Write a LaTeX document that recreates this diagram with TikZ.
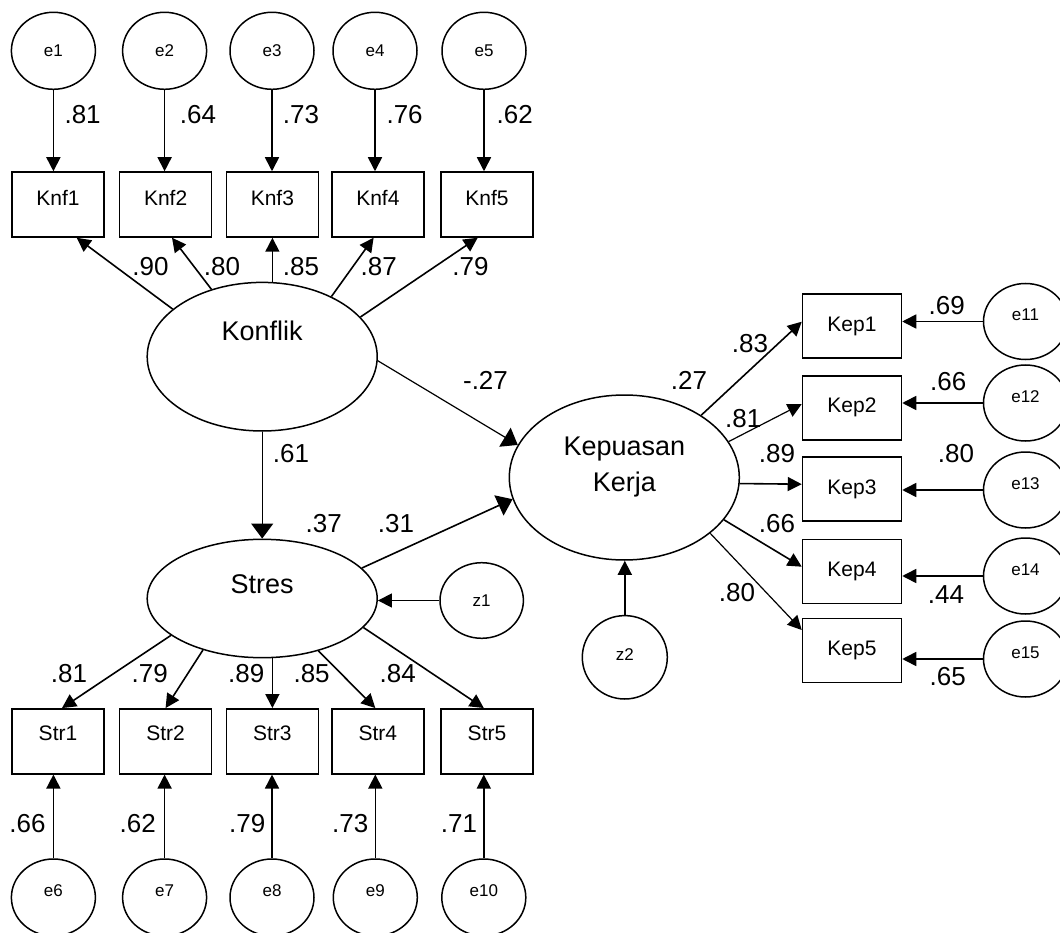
\documentclass[tikz,border=0pt]{standalone}
\usepackage{fontspec}
\setmainfont{Liberation Sans}
\usetikzlibrary{arrows.meta,shapes.geometric,calc}
\newcommand{\lift}[2]{\raisebox{#1}[0pt][0pt]{#2}}
\tikzset{
  obs/.style={draw, line width=1.5pt, rectangle, minimum width=92pt, minimum height=65pt, inner sep=0pt, font=\fontsize{21}{25}\selectfont},
  obsk/.style={obs, minimum width=99pt, minimum height=64pt},
  err/.style={draw, line width=1.5pt, ellipse, minimum width=84pt, minimum height=77pt, inner sep=0pt, font=\fontsize{17}{20}\selectfont},
  lat/.style={draw, line width=1.5pt, ellipse, minimum width=230pt, inner sep=0pt, font=\fontsize{27}{32}\selectfont},
  coef/.style={inner sep=0pt, font=\fontsize{26}{30}\selectfont},
  arr/.style={-{Triangle[length=14pt,width=14pt]}, line width=1.6pt},
  arrthin/.style={-{Triangle[length=14pt,width=14pt]}, line width=1.2pt},
  arrbig/.style={-{Triangle[length=15pt,width=22pt]}, line width=1.2pt},
}
\begin{document}
\begin{tikzpicture}[x=1pt,y=-1pt]
\useasboundingbox (0,0) rectangle (1060,933);
% latent variables
\node[lat, minimum height=148.6pt] (K) at (262.2,356.7) {\lift{16pt}{Konflik}};
\node[lat, minimum height=118.4pt] (S) at (262.2,598.5) {\lift{5.5pt}{Stres}};
\node[lat, minimum height=165pt] (P) at (624.3,477.5) {\makebox[0pt]{\lift{21.8pt}{Kepuasan}}\makebox[0pt]{\lift{-13.9pt}{Kerja}}};
% Konflik indicators
\node[obs] (Knf1) at (58,204.5) {\lift{-1.3pt}{Knf1}};
\node[obs] (Knf2) at (165.6,204.5) {\lift{-1.3pt}{Knf2}};
\node[obs] (Knf3) at (272.4,204.5) {\lift{-1.3pt}{Knf3}};
\node[obs] (Knf4) at (377.9,204.5) {\lift{-1.3pt}{Knf4}};
\node[obs] (Knf5) at (487,204.5) {\lift{-1.3pt}{Knf5}};
\node[err] (e1) at (53.4,50.8) {e1};
\node[err] (e2) at (164.6,50.8) {e2};
\node[err] (e3) at (272,50.8) {e3};
\node[err] (e4) at (375,50.8) {e4};
\node[err] (e5) at (484,50.8) {e5};
% Stres indicators
\node[obs] (Str1) at (58,741.3) {\lift{0.5pt}{Str1}};
\node[obs] (Str2) at (165.6,741.3) {\lift{0.5pt}{Str2}};
\node[obs] (Str3) at (272.4,741.3) {\lift{0.5pt}{Str3}};
\node[obs] (Str4) at (377.9,741.3) {\lift{0.5pt}{Str4}};
\node[obs] (Str5) at (487,741.3) {\lift{0.5pt}{Str5}};
\node[err] (e6) at (53.4,897.5) {\lift{1.5pt}{e6}};
\node[err] (e7) at (164.6,897.5) {\lift{1.5pt}{e7}};
\node[err] (e8) at (272,897.5) {\lift{1.5pt}{e8}};
\node[err] (e9) at (375.3,897.5) {\lift{1.5pt}{e9}};
\node[err] (e10) at (483.8,897.5) {\lift{1.5pt}{e10}};
% Kepuasan indicators
\node[obsk] (Kep1) at (852,326.2) {Kep1};
\node[obsk] (Kep2) at (852,407.8) {Kep2};
\node[obsk] (Kep3) at (852,489.2) {Kep3};
\node[obsk] (Kep4) at (852,571.3) {Kep4};
\node[obsk] (Kep5) at (852,650.5) {Kep5};
\node[err, minimum height=76pt] (e11) at (1025.5,321.5) {\lift{1pt}{e11}};
\node[err, minimum height=76pt] (e12) at (1025.5,403) {\lift{1pt}{e12}};
\node[err, minimum height=76pt] (e13) at (1025.5,490) {\lift{1pt}{e13}};
\node[err, minimum height=76pt] (e14) at (1025.5,576) {\lift{1pt}{e14}};
\node[err, minimum height=76pt] (e15) at (1025.5,659) {\lift{1pt}{e15}};
% disturbances
\node[err, minimum width=83.4pt, minimum height=75.6pt] (z1) at (481.7,600.5) {z1};
\node[err, minimum width=85pt, minimum height=83.4pt] (z2) at (624.8,657.3) {\lift{-3pt}{z2}};
% error arrows
\foreach \i/\b in {1/Knf1,2/Knf2,3/Knf3,4/Knf4,5/Knf5}
  \draw[arr] (e\i.south) -- (e\i.south |- \b.north);
\foreach \i/\b in {6/Str1,7/Str2,8/Str3,9/Str4,10/Str5}
  \draw[arr] (e\i.north) -- (e\i.north |- \b.south);
\foreach \i/\b in {11/Kep1,12/Kep2,13/Kep3,14/Kep4,15/Kep5}
  \draw[arr] (e\i.west) -- (e\i.west -| \b.east);
\draw[arr] (z1.west) -- (z1.west -| S.east);
\draw[arr] (z2.north) -- (z2.north |- P.south);
% loadings Konflik
\draw[arr] (K.152.9) -- ($(Knf1.south)+(18.7,0)$);
\draw[arr] (K.127.7) -- ($(Knf2.south)+(6.4,0)$);
\draw[arr] (K.north -| Knf3.south) -- (Knf3.south);
\draw[arr] (K.41.3) -- ($(Knf4.south)+(-4.3,0)$);
\draw[arr] (K.22.8) -- ($(Knf5.south)+(-9.3,0)$);
% loadings Stres
\draw[arr] (S.202.5) -- ($(Str1.north)+(4,0)$);
\draw[arr] (S.221.7) -- (Str2.north);
\draw[arr] (S.south -| Str3.north) -- (Str3.north);
\draw[arr] (S.317.5) -- ($(Str4.north)+(-2.6,0)$);
\draw[arr] (S.344.7) -- ($(Str5.north)+(-3.2,0)$);
% loadings Kepuasan
\draw[arr] (P.39.9) -- ($(Kep1.west)+(0,-4.5)$);
\draw[arrthin] (P.19.3) -- ($(Kep2.west)+(0,-3.8)$);
\draw[arr] (P.-3.7) -- ($(Kep3.west)+(0,-5)$);
\draw[arr] (P.-23.7) -- ($(Kep4.west)+(0,-4.6)$);
\draw[arrthin] (P.-33) -- ($(Kep5.west)+(0,-20.5)$);
% structural paths
\draw[arrbig] (K.south) -- (S.north);
\draw[arrbig] (K.-2.5) -- (P.163.7);
\draw[arrbig, line width=1.6pt] (S.17.9) -- (P.191.6);
% coefficients
\node[coef] (c1) at (82.6,115) {.81};
\node[coef] (c2) at (198,115) {.64};
\node[coef] (c3) at (301,115) {.73};
\node[coef] (c4) at (404.6,115) {.76};
\node[coef] (c5) at (514.8,115) {.62};
\node[coef] (l1) at (150.5,266.7) {.90};
\node[coef] (l2) at (222,266.7) {.80};
\node[coef] (l3) at (301,266.7) {.85};
\node[coef] (l4) at (378.8,266.7) {.87};
\node[coef] (l5) at (470.5,266.7) {.79};
\node[coef] (b1) at (485.5,380) {-.27};
\node[coef] (b2) at (291,454) {.61};
\node[coef] (r1) at (323.7,523.3) {.37};
\node[coef] (b3) at (396,523.3) {.31};
\node[coef] (l6) at (68.9,673.3) {.81};
\node[coef] (l7) at (149.8,673.3) {.79};
\node[coef] (l8) at (246.2,673.3) {.89};
\node[coef] (l9) at (311.6,673.3) {.85};
\node[coef] (l10) at (397.7,673.3) {.84};
\node[coef] (c6) at (27.5,823.3) {.66};
\node[coef] (c7) at (137.7,823.3) {.62};
\node[coef] (c8) at (247.2,823.3) {.79};
\node[coef] (c9) at (350.2,823.3) {.73};
\node[coef] (c10) at (459,823.3) {.71};
\node[coef] (r2) at (689,380) {.27};
\node[coef] (l11) at (750,343.3) {.83};
\node[coef] (l12) at (743.3,418.3) {.81};
\node[coef] (l13) at (777,453.3) {.89};
\node[coef] (l14) at (777,524) {.66};
\node[coef] (l15) at (737,592.5) {.80};
\node[coef] (c11) at (946.7,306) {.69};
\node[coef] (c12) at (948.3,381.7) {.66};
\node[coef] (c13) at (956,454) {.80};
\node[coef] (c14) at (946,595) {.44};
\node[coef] (c15) at (947.7,676.7) {.65};
\end{tikzpicture}
\end{document}
